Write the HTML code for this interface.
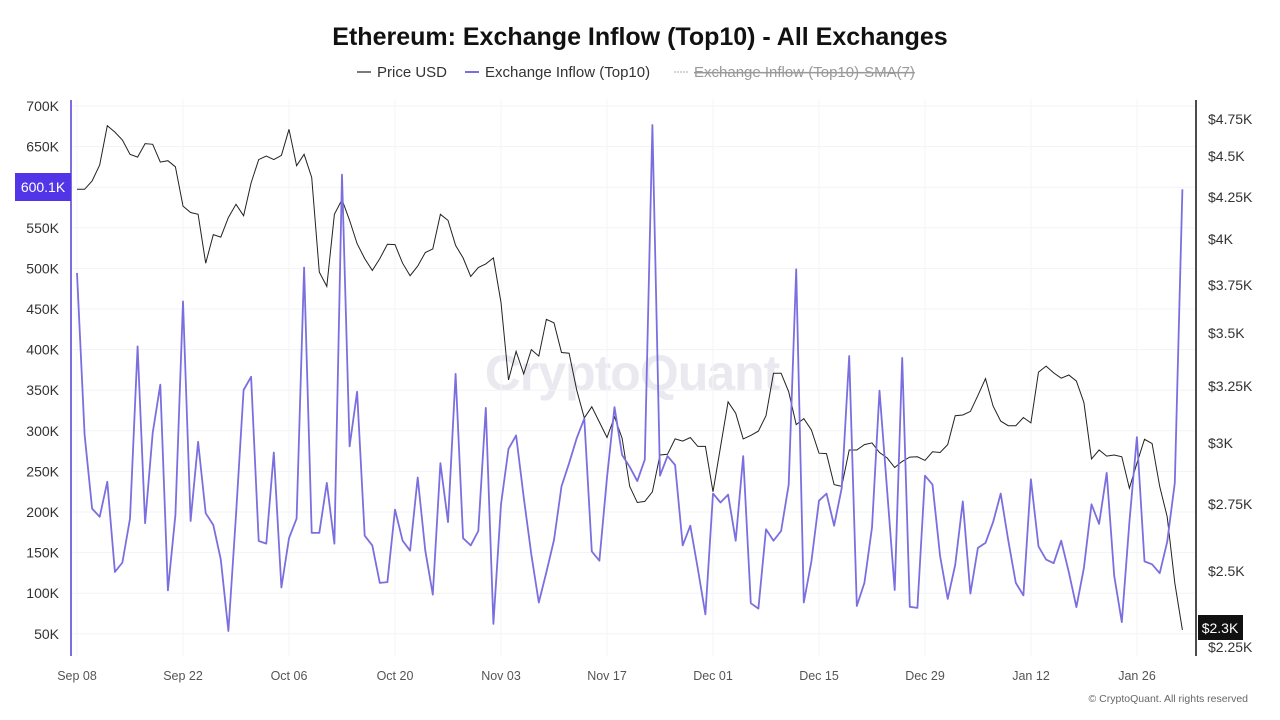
<!DOCTYPE html>
<html><head><meta charset="utf-8"><style>
html,body{margin:0;padding:0;background:#fff;width:1280px;height:720px;overflow:hidden}
svg{display:block;font-family:"Liberation Sans","DejaVu Sans",sans-serif}
</style></head><body>
<svg id="s" width="1280" height="720" viewBox="0 0 1280 720" xmlns="http://www.w3.org/2000/svg">
<text x="640" y="45" text-anchor="middle" font-size="25" font-weight="bold" fill="#111">Ethereum: Exchange Inflow (Top10) - All Exchanges</text>
<line x1="357" y1="72" x2="371" y2="72" stroke="#222" stroke-width="1.2"/>
<text x="377" y="77" font-size="15" fill="#333">Price USD</text>
<line x1="465" y1="72" x2="479" y2="72" stroke="#7b6fe0" stroke-width="2"/>
<text x="485" y="77" font-size="15" fill="#333">Exchange Inflow (Top10)</text>
<line x1="674" y1="72" x2="689" y2="72" stroke="#aaa" stroke-width="1" stroke-dasharray="2,1"/>
<text x="694" y="77" font-size="15" fill="#999" text-decoration="line-through">Exchange Inflow (Top10)-SMA(7)</text>
<text x="632" y="390" text-anchor="middle" font-size="50" fill="#e9e9ef" font-weight="bold" letter-spacing="-1">CryptoQuant</text>
<g id="grid"></g>
<line x1="71" y1="100" x2="71" y2="656" stroke="#7b6fe0" stroke-width="2"/>
<line x1="1196" y1="100" x2="1196" y2="656" stroke="#111" stroke-width="1.5"/>
<g id="lab" font-size="14" fill="#333"></g>
<polyline id="pp" fill="none" stroke="#222" stroke-width="1" points=""/>
<polyline id="pi" fill="none" stroke="#7b6fe0" stroke-width="1.8" stroke-linejoin="round" points=""/>
<rect x="15" y="173" width="56" height="28" fill="#5235e6"/>
<text x="43" y="192" text-anchor="middle" font-size="14" fill="#fff">600.1K</text>
<rect x="1198" y="615" width="45" height="25" fill="#111"/>
<text x="1220" y="633" text-anchor="middle" font-size="14" fill="#fff">$2.3K</text>
<text x="1248" y="702" text-anchor="end" font-size="10.5" fill="#666">© CryptoQuant. All rights reserved</text>
</svg>
<script>
var inf=[272.9,434.6,508.6,516.8,481.8,572,562.5,518.6,346.4,523.2,432.9,384.6,590.4,515,301.4,521,441.8,513.2,525,559.6,631,515,390,376.8,541,543.6,452.5,587.5,538.2,518.6,267.5,532.9,532.9,482.9,543.6,174.6,446.4,391.8,535.7,545.4,582.9,582.1,509.6,540.7,550.7,477.5,550.7,594.6,463.2,522.1,373.9,538.2,545.4,531,407.9,623.9,504.3,448.9,435.4,497.1,554.3,602.5,572.1,540,486.4,463.2,438.2,418.6,551.4,560.7,477.5,407.1,455,466.8,481.1,459.6,125,475.7,456.1,465,545.4,525.7,568.6,614.3,493.6,502.5,494.6,540.7,456.1,603.2,608.6,529.3,540.7,531,484.6,269.3,602.5,561.4,500.7,493.6,525.7,488.2,356,606,582.9,527.5,390.7,490,590,357.9,606.8,607.9,475.7,484.6,556.1,598.9,565,501.4,593.6,547.9,542.9,522.1,493.6,540,582.9,595.4,479.3,546.4,559.6,563.2,540.7,572.1,607.1,567.9,504.3,523.9,472.9,575.7,622.1,522.1,437.1,561.4,564.3,573.2,541.8,482.9,189.3];
var pr=[189.3,189.3,181,165,125.7,132.1,140,154.3,157.1,143.6,144.3,162.1,160.7,166.8,206.1,212.5,214.3,263.2,234.6,237.1,217.5,204.3,215.7,182.9,159.6,156.1,159.6,155.4,129.3,165.7,154.3,177.5,272.1,286.4,214.3,199.6,220.4,243.6,258.6,270.4,258.6,244.3,244.6,263.2,275.7,266.1,252.5,248.9,214.3,220.4,245.4,257.9,276.4,267.5,263.9,257.9,302.5,380,351.4,373.9,349.6,356.1,319.3,322.9,352.5,353.2,390,417.9,406.8,422.1,437.5,416.8,438.2,486.4,502.5,501.4,491.8,455,454.3,438.9,441.1,437.5,446.4,446.4,491.8,447,401.8,413.2,438.9,435.4,431.1,415.7,373.2,373.2,391.8,424.6,418.6,430,453.2,453.6,484.6,486.4,450,450,444.6,442.9,452.5,457.9,467.5,461.4,457.1,456.8,460.4,451.8,452.5,444.6,415.7,415,411.4,395.4,378.6,406.1,421.1,425.7,425.7,417.5,422.9,372.1,366.1,372.9,378.2,375,381.1,402.5,458.9,450,456.1,455,456.8,488.2,463.2,439.3,443.6,486.4,516.8,582.9,630];
function pts(a){return a.map(function(y,i){return (77+7.571*i).toFixed(1)+","+y}).join(" ");}
document.getElementById("pi").setAttribute("points",pts(inf));
document.getElementById("pp").setAttribute("points",pts(pr));
var NS="http://www.w3.org/2000/svg";
function el(p,t,a,txt){var e=document.createElementNS(NS,t);for(var k in a)e.setAttribute(k,a[k]);if(txt)e.textContent=txt;p.appendChild(e);}
var g=document.getElementById("grid"),l=document.getElementById("lab");
var L=["700K","650K","600K","550K","500K","450K","400K","350K","300K","250K","200K","150K","100K","50K"];
L.forEach(function(t,i){var y=106+i*40.6;el(g,"line",{x1:72,x2:1195,y1:y,y2:y,stroke:"#f3f3f5","stroke-width":1});if(t!="600K")el(l,"text",{x:59,y:y+5,"text-anchor":"end"},t);});
var R=[["$4.75K",119],["$4.5K",156],["$4.25K",197],["$4K",239],["$3.75K",285],["$3.5K",333],["$3.25K",386],["$3K",443],["$2.75K",504],["$2.5K",571],["$2.25K",647]];
R.forEach(function(r){el(l,"text",{x:1208,y:r[1]+5},r[0]);});
var X=["Sep 08","Sep 22","Oct 06","Oct 20","Nov 03","Nov 17","Dec 01","Dec 15","Dec 29","Jan 12","Jan 26"];
X.forEach(function(t,i){var x=77+106*i;el(g,"line",{x1:x,x2:x,y1:100,y2:656,stroke:"#f6f6f8","stroke-width":1});el(l,"text",{x:x,y:680,"text-anchor":"middle","font-size":12.5,fill:"#555"},t);});
</script>
</body></html>
